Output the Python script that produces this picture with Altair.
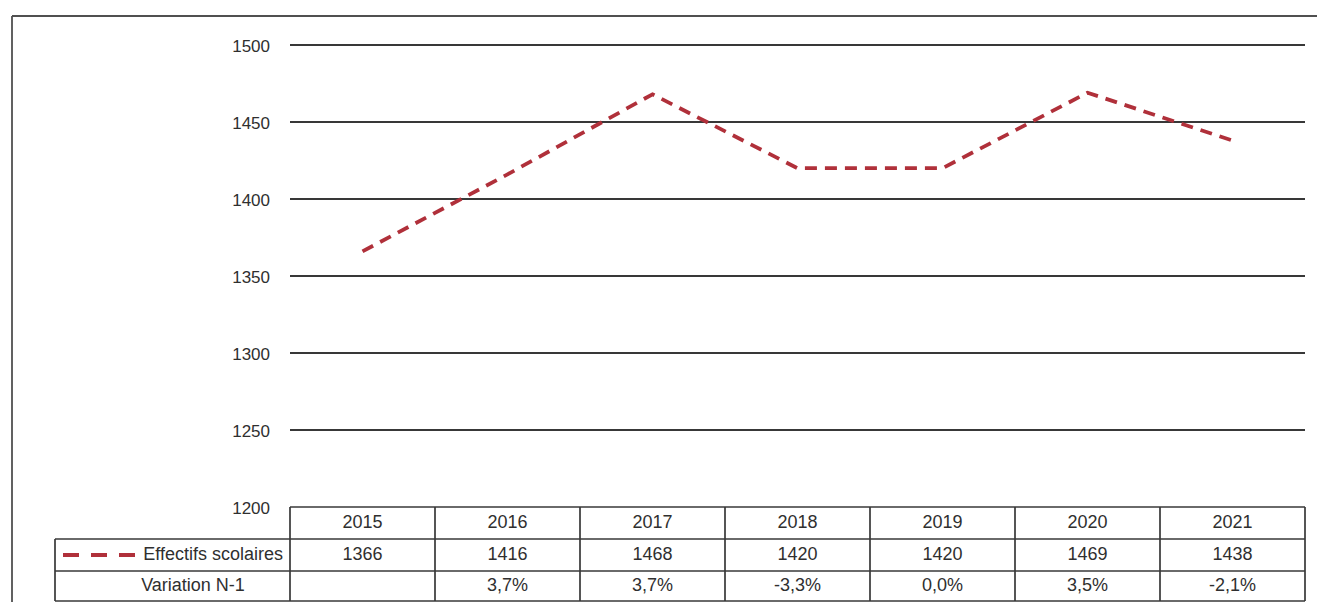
import altair as alt
import pandas as pd

# ---------------- data ----------------
years = ["2015", "2016", "2017", "2018", "2019", "2020", "2021"]
effectifs = [1366, 1416, 1468, 1420, 1420, 1469, 1438]
variation = ["", "3,7%", "3,7%", "-3,3%", "0,0%", "3,5%", "-2,1%"]
y_ticks = [1200, 1250, 1300, 1350, 1400, 1450, 1500]
row_labels = ["Effectifs scolaires", "Variation N-1"]

# ---------------- layout helpers (page pixels -> data space) ----------------
W, H = 1309, 594            # plot area, placed at page (8, 8)
OX, OY = 8, 8
COL_PX = 145.0              # width of one year column
X0_PX = 290.0               # page x of the first year column
Y_TOP_PX, Y_BOT_PX = 45.0, 507.0   # page y of 1500 and 1200
PX_PER_UNIT = (Y_BOT_PX - Y_TOP_PX) / (y_ticks[-1] - y_ticks[0])


def xv(p):
    return (p - X0_PX) / COL_PX


def yv(p):
    return y_ticks[-1] - (p - Y_TOP_PX) / PX_PER_UNIT


x_dom = [xv(OX), xv(OX + W)]
y_dom = [yv(OY + H), yv(OY)]
n = len(years)

row_px = [507, 539, 571, 601]          # table row boundaries (page y)
rows = [yv(p) for p in row_px]
row_mid = [(rows[i] + rows[i + 1]) / 2 for i in range(3)]
tbl_left = xv(55)

xs = alt.Scale(domain=x_dom, nice=False, zero=False)
ys = alt.Scale(domain=y_dom, nice=False, zero=False)


def X(f):
    return alt.X(f, type="quantitative", scale=xs, axis=None)


def X2(f):
    return alt.X2(f)


def Y(f):
    return alt.Y(f, type="quantitative", scale=ys, axis=None)


FONT = "Liberation Sans"
GRID = "#383838"
RED = "#b0303a"
TXT = "#2f2f2f"

# ---------------- frames ----------------
df_line = pd.DataFrame({"x": [i + 0.5 for i in range(n)], "y": effectifs, "year": years})
df_grid = pd.DataFrame({"y": y_ticks[1:], "x": 0, "x2": n})
df_ticklab = pd.DataFrame({"y": y_ticks, "x": 0, "t": [str(v) for v in y_ticks]})

df_header = pd.DataFrame({"x": [i + 0.5 for i in range(n)], "y": row_mid[0], "t": years})
df_vals = pd.DataFrame({"x": [i + 0.5 for i in range(n)], "y": row_mid[1], "t": [str(v) for v in effectifs]})
df_var = pd.DataFrame({"x": [i + 0.5 for i in range(n)], "y": row_mid[2], "t": variation})

hlines = [{"x": 0, "x2": n, "y": rows[0]}] + [{"x": tbl_left, "x2": n, "y": r} for r in rows[1:]]
vlines = [{"x": i, "y": rows[0], "y2": rows[3]} for i in range(n + 1)] + [{"x": tbl_left, "y": rows[1], "y2": rows[3]}]
df_h = pd.DataFrame(hlines)
df_v = pd.DataFrame(vlines)

df_frame_h = pd.DataFrame([{"x": xv(12), "x2": x_dom[1], "y": yv(16)}])
df_frame_v = pd.DataFrame([{"x": xv(12), "y": yv(16), "y2": y_dom[0]}])

df_key = pd.DataFrame([{"x": xv(63), "x2": xv(136), "y": row_mid[1]}])
df_rowlab = pd.DataFrame([
    {"x": xv(283), "y": row_mid[1], "t": row_labels[0]},
    {"x": xv(193), "y": row_mid[2], "t": row_labels[1]},
])

# ---------------- layers ----------------
grid = alt.Chart(df_grid).mark_rule(color=GRID, strokeWidth=2).encode(
    x=X("x"), x2=X2("x2"), y=Y("y"))

ticklab = alt.Chart(df_ticklab).mark_text(
    align="right", baseline="middle", dx=-20, dy=2, font=FONT, fontSize=17, color=TXT
).encode(x=X("x"), y=Y("y"), text="t:N")

line = alt.Chart(df_line).mark_line(
    color=RED, strokeWidth=3.8, strokeDash=[12, 8]
).encode(x=X("x"), y=Y("y"), order="x:Q")

tbl_h = alt.Chart(df_h).mark_rule(color=GRID, strokeWidth=1.7).encode(
    x=X("x"), x2=X2("x2"), y=Y("y"))
tbl_v = alt.Chart(df_v).mark_rule(color=GRID, strokeWidth=1.7).encode(
    x=X("x"), y=Y("y"), y2=alt.Y2("y2"))

frame_h = alt.Chart(df_frame_h).mark_rule(color="#505050", strokeWidth=1.8).encode(
    x=X("x"), x2=X2("x2"), y=Y("y"))
frame_v = alt.Chart(df_frame_v).mark_rule(color="#505050", strokeWidth=1.8).encode(
    x=X("x"), y=Y("y"), y2=alt.Y2("y2"))

txt_kw = dict(baseline="middle", font=FONT, fontSize=18, color=TXT)
header = alt.Chart(df_header).mark_text(align="center", **txt_kw).encode(x=X("x"), y=Y("y"), text="t:N")
vals = alt.Chart(df_vals).mark_text(align="center", **txt_kw).encode(x=X("x"), y=Y("y"), text="t:N")
var = alt.Chart(df_var).mark_text(align="center", **txt_kw).encode(x=X("x"), y=Y("y"), text="t:N")

key = alt.Chart(df_key).mark_rule(color=RED, strokeWidth=3.8, strokeDash=[16, 12]).encode(
    x=X("x"), x2=X2("x2"), y=Y("y"))

rowlab_r = alt.Chart(df_rowlab.iloc[[0]]).mark_text(align="right", **txt_kw).encode(
    x=X("x"), y=Y("y"), text="t:N")
rowlab_c = alt.Chart(df_rowlab.iloc[[1]]).mark_text(align="center", **txt_kw).encode(
    x=X("x"), y=Y("y"), text="t:N")

chart = alt.layer(
    frame_h, frame_v, grid, tbl_h, tbl_v, ticklab, header, vals, var, key, rowlab_r, rowlab_c, line
).properties(
    width=W, height=H, padding=0, autosize=alt.AutoSizeParams(type="none"), background="white"
).configure_view(stroke=None)

chart.save("out.html", embed_options={"renderer": "svg", "actions": False})
